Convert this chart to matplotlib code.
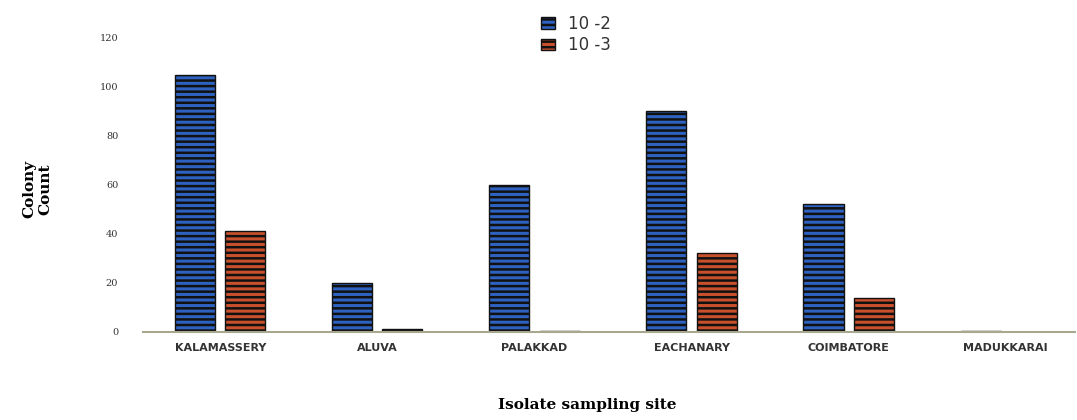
import numpy as np
import matplotlib
matplotlib.use('Agg')
import matplotlib.pyplot as plt

sites = ['KALAMASSERY', 'ALUVA', 'PALAKKAD', 'EACHANARY', 'COIMBATORE', 'MADUKKARAI']
dil_2 = [105, 20, 60, 90, 52, 0.5]
dil_3 = [41, 1, 0.5, 32, 14, 0]
yticks = [0, 20, 40, 60, 80, 100, 120]

plt.rcParams['hatch.linewidth'] = 1.8
plt.rcParams['hatch.color'] = '#111111'

fig = plt.figure(figsize=(10.77, 4.2), dpi=100)
ax = fig.add_axes([0.133, 0.21, 0.865, 0.70])

x = np.arange(len(sites))
w = 0.255
ax.bar(x - 0.16, dil_2, w, color='#2e62c0', edgecolor='#111111', hatch='---', linewidth=1.0, label='10 -2')
ax.bar(x + 0.16, dil_3, w, color='#c9502c', edgecolor='#111111', hatch='---', linewidth=1.0, label='10 -3')

ax.set_xlim(-0.49, 5.44)
ax.set_ylim(0, 120)
ax.set_yticks(yticks)
ax.set_yticklabels([str(v) for v in yticks], family='DejaVu Serif', fontsize=7, color='#333333')
ax.set_xticks(x)
ax.set_xticklabels(sites, fontsize=8, fontweight='bold', color='#333333')
ax.tick_params(axis='both', length=0)
ax.tick_params(axis='y', pad=18)
ax.tick_params(axis='x', pad=8)

for s in ['top', 'right', 'left']:
    ax.spines[s].set_visible(False)
ax.spines['bottom'].set_color('#a8a890')
ax.spines['bottom'].set_linewidth(1.5)

fig.text(0.035, 0.55, 'Colony\nCount', rotation=90, ha='center', va='center',
         family='DejaVu Serif', fontweight='bold', fontsize=11)
fig.text(0.545, 0.035, 'Isolate sampling site', ha='center', va='center',
         family='DejaVu Serif', fontweight='bold', fontsize=11)

leg = fig.legend(loc='upper center', bbox_to_anchor=(0.535, 1.0), frameon=False,
                 fontsize=12, handlelength=0.8, handleheight=0.7, labelspacing=0.2)
for t in leg.get_texts():
    t.set_color('#333333')

fig.savefig('out.png', dpi=100)
